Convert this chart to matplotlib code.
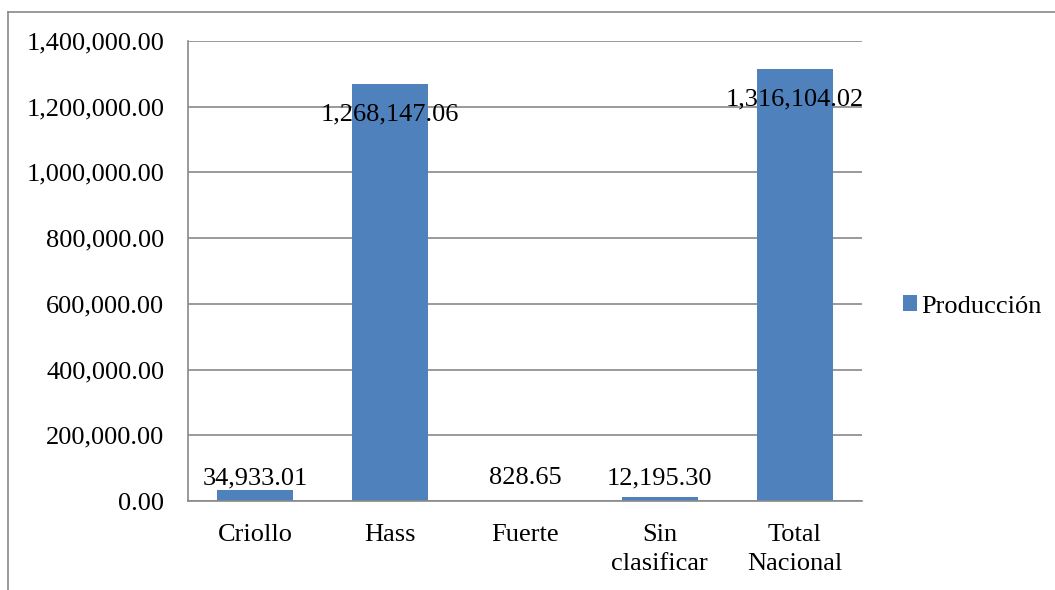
import matplotlib
matplotlib.use("Agg")
import matplotlib.pyplot as plt
from matplotlib.lines import Line2D
from matplotlib.ticker import FuncFormatter

categories = ["Criollo", "Hass", "Fuerte", "Sin\nclasificar", "Total\nNacional"]
values = [34933.01, 1268147.06, 828.65, 12195.30, 1316104.02]
series_name = "Producción"
y_ticks = [0, 200000, 400000, 600000, 800000, 1000000, 1200000, 1400000]

plt.rcParams['font.family'] = ['Liberation Serif', 'DejaVu Serif']
FS = 19
BAR = "#4F81BD"
GRID = "#898989"

W, H = 1055, 590
fig = plt.figure(figsize=(W / 100, H / 100), dpi=100)
ax = fig.add_axes([188 / W, 1 - 501 / H, (862 - 188) / W, (501 - 41) / H])

x = list(range(len(categories)))
bars = ax.bar(x, values, width=0.565, color=BAR, zorder=2, label=series_name)

ax.set_xlim(-0.5, len(categories) - 0.5)
ax.set_ylim(0, 1400000)
ax.set_yticks(y_ticks)
ax.yaxis.set_major_formatter(FuncFormatter(lambda v, p: f"{v:,.2f}"))
ax.set_xticks(x)
ax.set_xticklabels(categories, fontsize=FS, linespacing=1.42)
ax.tick_params(axis='y', length=0, pad=17, labelsize=FS)
ax.tick_params(axis='x', length=0, pad=16.5, labelsize=FS)

ax.grid(axis='y', color=GRID, linewidth=1.2, zorder=0)
for s in ['top', 'right']:
    ax.spines[s].set_visible(False)
for s in ['left', 'bottom']:
    ax.spines[s].set_color(GRID)
    ax.spines[s].set_linewidth(1.2)
    ax.spines[s].set_zorder(3)

for xi, v in zip(x, values):
    label = f"{v:,.2f}"
    if v > 700000:
        ax.annotate(label, xy=(xi, v), xytext=(0, -22), textcoords='offset points',
                    ha='center', va='center', fontsize=FS, zorder=4)
    else:
        ax.annotate(label, xy=(xi, 0), xytext=(0, 16.5), textcoords='offset points',
                    ha='center', va='center', fontsize=FS, zorder=4)

fig.legend(handles=[bars], labels=[series_name], loc='center left',
           bbox_to_anchor=(903 / W, 1 - 306.5 / H), frameon=False, fontsize=FS,
           handlelength=0.53, handleheight=0.53, handletextpad=0.15,
           borderpad=0, borderaxespad=0)

fig.add_artist(Line2D([7.5 / W, 1], [1 - 11.5 / H, 1 - 11.5 / H], transform=fig.transFigure,
                      color=GRID, linewidth=1.2))
fig.add_artist(Line2D([7.5 / W, 7.5 / W], [0, 1 - 11.5 / H], transform=fig.transFigure,
                      color=GRID, linewidth=1.2))

fig.savefig("out.png", dpi=100)
